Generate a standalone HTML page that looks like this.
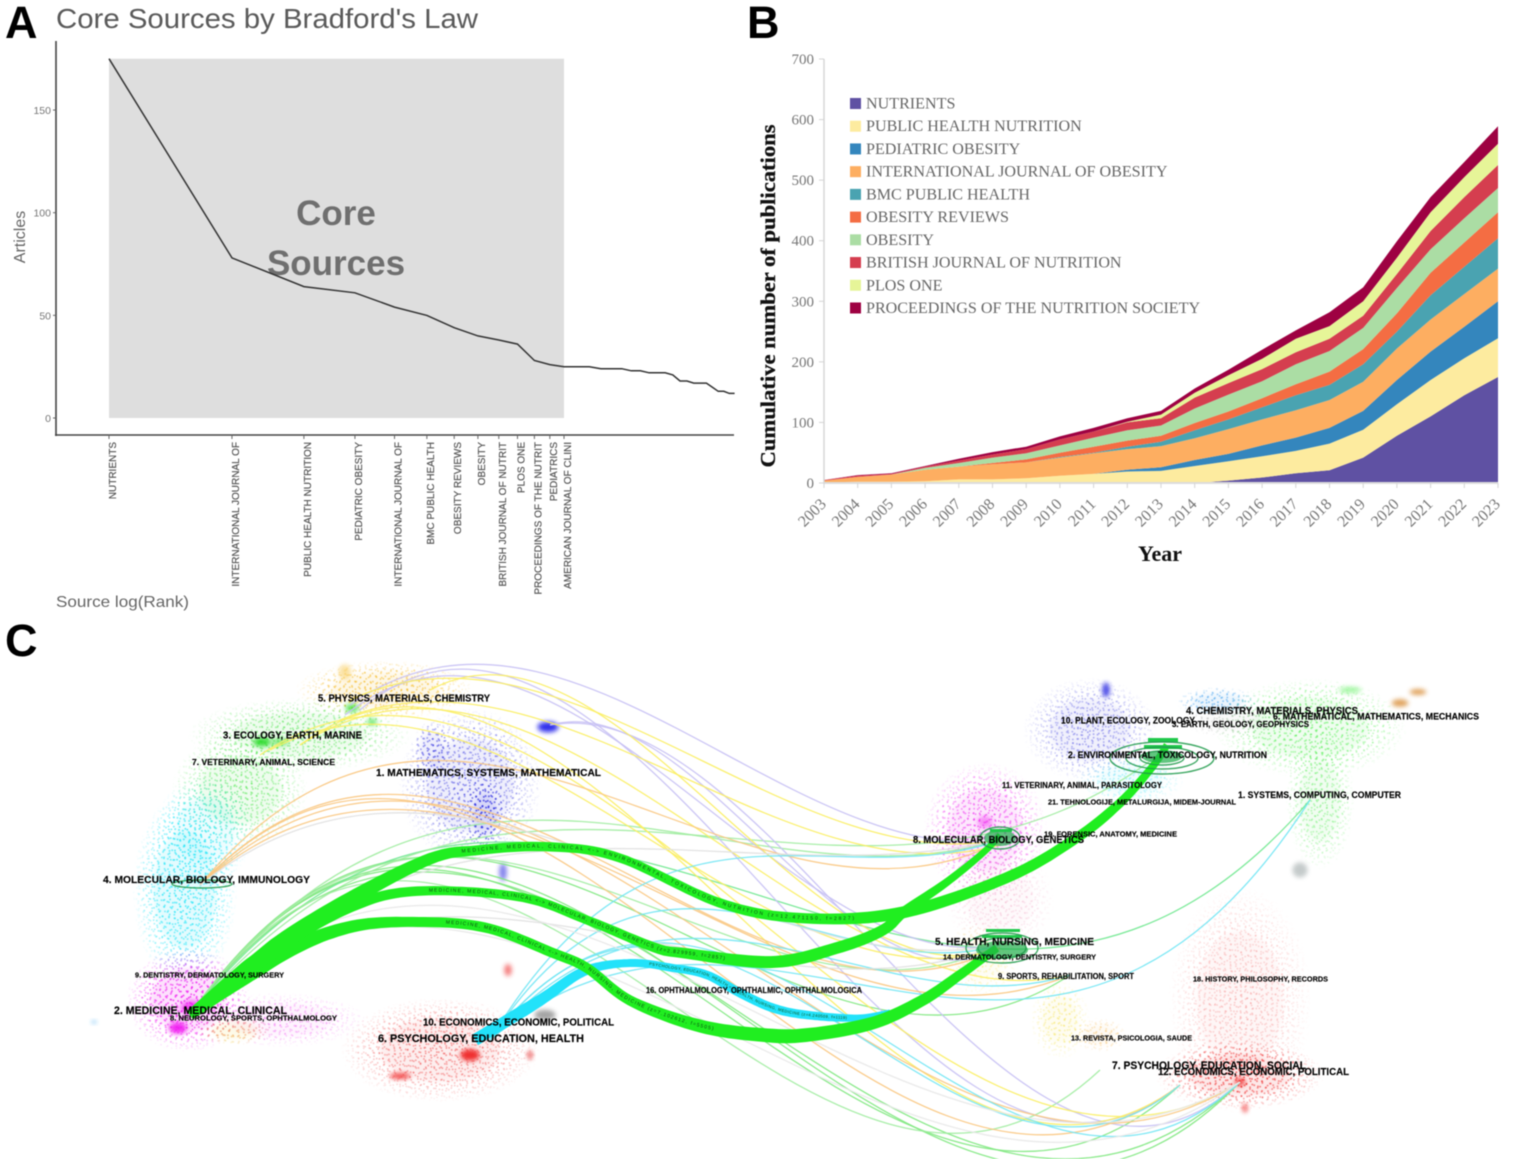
<!DOCTYPE html>
<html lang="en">
<head>
<meta charset="utf-8">
<title>Core sources, publication growth and dual-map overlay</title>
<style>
html,body{margin:0;padding:0;background:#fff;width:1535px;height:1159px;overflow:hidden}
svg{display:block;filter:blur(.45px)}
text{font-family:"Liberation Sans",sans-serif}
.serif{font-family:"Liberation Serif",serif}
</style>
</head>
<body>
<svg id="fig" xmlns="http://www.w3.org/2000/svg" width="1535" height="1159" viewBox="0 0 1535 1159">
  <defs>
    <radialGradient id="fade"><stop offset="0" stop-color="#fff"/><stop offset=".6" stop-color="#aaa"/><stop offset="1" stop-color="#000"/></radialGradient>
    <mask id="cloud-mask" maskContentUnits="objectBoundingBox"><rect width="1" height="1" fill="url(#fade)"/></mask>
    <filter id="soft" x="-80%" y="-80%" width="260%" height="260%"><feGaussianBlur stdDeviation="2.5"/></filter>
  </defs>
  <rect width="1535" height="1159" fill="#fff"/>
  <text x="5" y="38" font-size="45" font-weight="bold" fill="#000">A</text>
  <text x="747" y="38" font-size="45" font-weight="bold" fill="#000">B</text>
  <text x="5" y="656" font-size="45" font-weight="bold" fill="#000">C</text>

  <g id="panel-a">
    <text x="56" y="28" font-size="28" fill="#5a5a5a" textLength="422" lengthAdjust="spacingAndGlyphs">Core Sources by Bradford's Law</text>
    <text transform="translate(25,237) rotate(-90)" text-anchor="middle" font-size="16" fill="#666">Articles</text>
    <text x="56" y="607" font-size="16" fill="#666" textLength="133" lengthAdjust="spacingAndGlyphs">Source log(Rank)</text>
  </g>
  <g id="panel-b">
    <text class="serif" transform="translate(775,296) rotate(-90)" text-anchor="middle" font-size="21" font-weight="bold" fill="#111" textLength="343" lengthAdjust="spacingAndGlyphs" stroke="#111" stroke-width=".3">Cumulative number of publications</text>
    <text class="serif" x="1160" y="561" text-anchor="middle" font-size="22" font-weight="bold" fill="#111">Year</text>
  </g>
  <g id="panel-c"></g>
</svg>
<script>
/* ---------- Panel A data ---------- */
var coreSources = ["NUTRIENTS","INTERNATIONAL JOURNAL OF","PUBLIC HEALTH NUTRITION","PEDIATRIC OBESITY","INTERNATIONAL JOURNAL OF","BMC PUBLIC HEALTH","OBESITY REVIEWS","OBESITY","BRITISH JOURNAL OF NUTRIT","PLOS ONE","PROCEEDINGS OF THE NUTRIT","PEDIATRICS","AMERICAN JOURNAL OF CLINI"];
var articlesByRank = [175,78,64,61,54,50,44,40,38,36,28,26,25,25,25,24,24,24,23,23,22,22,22,21,18,18,17,17,17,15,13,13,12,12];
var bradfordTicks = [0,50,100,150];
var coreZoneRanks = 13;

/* ---------- Panel B data ---------- */
var years = [2003,2004,2005,2006,2007,2008,2009,2010,2011,2012,2013,2014,2015,2016,2017,2018,2019,2020,2021,2022,2023];
var journals = ["NUTRIENTS","PUBLIC HEALTH NUTRITION","PEDIATRIC OBESITY","INTERNATIONAL JOURNAL OF OBESITY","BMC PUBLIC HEALTH","OBESITY REVIEWS","OBESITY","BRITISH JOURNAL OF NUTRITION","PLOS ONE","PROCEEDINGS OF THE NUTRITION SOCIETY"];
var journalColors = ["#5f51a3","#fdeb9f","#3486bd","#fdae61","#4aa3b1","#f46d43","#abdda4","#d53e4f","#e6f598","#9e0142"];
var nutrientsPubs = [0,0,0,0,0,0,0,0,0,0,0,0,4,9,16,21,42,78,110,145,175];
var phnPubs = [1,2,2,3,6,6,8,12,15,19,20,28,32,35,37,44,46,52,60,61,64];
var pediatricPubs = [0,0,0,0,0,0,0,0,0,3,6,10,12,18,22,26,31,40,47,52,61];
var ijoPubs = [3,8,12,19,21,25,26,30,34,34,35,36,41,43,45,46,48,52,53,54,54];
var bmcPubs = [0,0,0,0,0,0,0,1,1,4,7,13,16,20,25,25,29,28,40,45,50];
var reviewsPubs = [0,0,0,0,0,2,5,7,10,10,10,12,13,15,18,22,25,30,37,40,43];
var obesityPubs = [0,0,0,3,6,9,10,12,15,17,17,24,28,28,33,34,35,42,39,40,40];
var bjnPubs = [1,2,1,2,4,5,7,10,10,13,12,18,19,20,20,20,20,23,30,35,38];
var plosPubs = [0,0,0,0,0,0,0,0,0,1,6,8,13,17,22,21,24,27,31,33,35];
var proceedingsPubs = [0,1,1,1,3,4,4,5,6,6,6,7,9,15,14,23,23,27,25,25,29];
var cumulativeTicks = [0,100,200,300,400,500,600,700];

/* ---------- Panel C data (map coordinates of the overlay) ---------- */
var clouds = [
 [385,690,72,24,"#f5b81e",.75],[345,672,8,10,"#f5b81e",.5],[262,742,12,6,"#12d812",1],[280,742,12,5,"#12d812",.6],[300,735,90,30,"#22dd22",.5],[240,790,55,46,"#22e022",.5],[352,708,9,6,"#22dd22",.8],[372,722,7,5,"#22dd22",.7],
 [548,727,14,7,"#0c0ce8",1],[470,785,58,62,"#3b3be0",.6],[485,815,16,30,"#2a2ae0",.8],[503,872,5,12,"#2a2ae0",.7],[432,750,16,24,"#3b3be0",.6],
 [185,890,42,78,"#28e6f8",.9],[205,830,40,44,"#28e6f8",.6],[188,1000,50,42,"#f018f0",.9],[178,1028,12,8,"#f010f0",1],[192,1008,15,10,"#f010f0",.8],[235,1030,30,12,"#f0d020",.7],[280,1020,70,22,"#f050f0",.45],
 [470,1055,13,8,"#ee1111",1],[400,1076,14,4,"#ee1111",.9],[440,1050,80,42,"#ee3333",.55],[508,970,5,8,"#ee2222",.7],[530,1055,3,6,"#e01010",.9],[545,1015,14,7,"#888",.9],[94,1022,3,2,"#2aa0f0",.8],
 [1106,690,5,10,"#1a1ae0",.95],[1090,730,54,42,"#5c5ce4",.6],[1218,702,34,12,"#50a8f0",.8],[1310,728,78,40,"#44ee44",.6],[1320,800,28,56,"#66ee66",.6],[1350,690,15,4,"#44ee44",.6],[1400,703,11,5,"#d88a30",.95],[1418,692,11,4,"#d88a30",.95],
 [985,830,50,55,"#f035f0",.75],[985,822,10,8,"#f020f0",.55],[1130,780,44,20,"#55e8f8",.55],[1000,900,44,44,"#f0a0c0",.4],[1300,870,10,10,"#566",.4],[1230,720,40,14,"#aaa",.45],
 [1240,1000,58,92,"#f04040",.28],[1240,1075,68,28,"#ee2222",.7],[1240,1082,7,5,"#ee1111",.9],[1245,1108,3,6,"#ee1111",.9],[1060,1020,24,32,"#f4e040",.5],[1100,1035,22,14,"#f4b040",.45],[980,960,32,30,"#f4e040",.35]
];
var arcs = [
 [190,1015,1240,1082,495,360,"#7fe87f"],[190,1015,1180,1085,470,300,"#7fe87f"],[190,1015,1070,975,420,190,"#7fe87f"],[190,1015,1310,800,470,430,"#70e890"],
 [190,1015,1000,840,360,80,"#a0eca0"],[190,1015,1000,945,380,130,"#a0eca0"],[190,1015,1165,750,380,250,"#a0eca0"],[190,1015,1240,1082,470,330,"#7fe87f"],[190,1015,1100,1070,430,280,"#a0eca0"],
 [350,705,1000,840,150,30,"#c6c0f4"],[345,715,1000,945,170,40,"#c6c0f4"],[550,725,1000,948,40,80,"#c6c0f4"],[550,725,1240,1082,40,210,"#c6c0f4"],[360,710,1180,1085,230,220,"#c6c0f4"],
 [350,700,1000,840,100,40,"#fbee60"],[430,690,1000,948,100,70,"#fbee60"],[270,750,1000,948,130,80,"#fbee60"],[300,745,1180,1085,215,220,"#fbee60"],[260,755,1240,1082,215,200,"#fbee60"],[340,720,1000,845,90,60,"#fbee60"],[300,745,1070,975,165,60,"#fbee60"],
 [200,885,1000,842,317,130,"#f9c680"],[200,885,1000,948,281,130,"#f9c680"],[200,885,1180,1085,340,250,"#f9c680"],[200,885,1240,1082,326,220,"#f9c680"],[200,885,1070,975,250,120,"#f9c680"],
 [490,1040,1000,840,280,60,"#70e6f4"],[490,1040,1000,945,260,50,"#70e6f4"],[490,1040,1180,1085,300,190,"#70e6f4"],[490,1040,1240,1082,320,230,"#70e6f4"],[490,1040,1310,800,230,420,"#70e6f4"],[490,1040,1070,975,220,60,"#70e6f4"],
 [190,1015,1000,840,270,60,"#e0e0e0"],[190,1015,1000,945,230,100,"#e0e0e0"],[200,885,1000,945,210,50,"#e0e0e0"],[190,1015,1240,1082,310,250,"#e8e8e8"],[190,1015,1240,1082,350,200,"#e8e8e8"]
];
var ribbonCentres = {
 environmental:[[190,1015],[300,930],[420,863],[480,850],[553,847],[620,858],[720,903],[800,918],[900,913],[1006,878],[1075,839],[1121,802],[1153,766],[1167,745]],
 molecular:[[190,1015],[280,945],[355,905],[420,891],[520,897],[587,920],[653,947],[683,953],[773,962],[840,947],[883,930],[905,911],[947,882],[984,852],[1000,835]],
 health:[[190,1015],[280,955],[350,927],[420,922],[487,928],[553,953],[587,968],[631,1001],[700,1026],[763,1035],[807,1035],[873,1023],[923,1000],[961,974],[997,948]],
 ophthalmic:[[475,1040],[539,1001],[585,971],[631,963],[673,968],[707,975],[740,993],[773,1008],[807,1015],[857,1018],[890,1012]]
};
var ribbonWidths = {
 environmental:[10,18,14,10,9,9,10,12,11,10,7],
 molecular:[10,17,13,10,9,9,9,10,12,12,11,8,6],
 health:[10,16,13,10,10,10,10,13,14,13,11,8],
 ophthalmic:[12,12,10,8,8,9,9,8,5]
};
var ribbonColors = {environmental:"#20ee20",molecular:"#20ee20",health:"#20ee20",ophthalmic:"#22e2fa"};
var ribbonCaptions = {
 environmental:"MEDICINE, MEDICAL, CLINICAL <-> ENVIRONMENTAL, TOXICOLOGY, NUTRITION (z=12.471150, f=2827)",
 molecular:"MEDICINE, MEDICAL, CLINICAL <-> MOLECULAR, BIOLOGY, GENETICS (z=2.829959, f=2857)",
 health:"MEDICINE, MEDICAL, CLINICAL <-> HEALTH, NURSING, MEDICINE (z=7.102612, f=5505)",
 ophthalmic:"PSYCHOLOGY, EDUCATION, HEALTH <-> HEALTH, NURSING, MEDICINE (z=4.240509, f=1119)"
};
var ribbonCaptionStart = {environmental:320,molecular:275,health:280,ophthalmic:195};
var ribbonCaptionSpacing = {environmental:1.8,molecular:1.1,health:1.1,ophthalmic:.4};
var rings = [[1162,758,52,16],[1162,758,36,11],[1162,758,22,7],[1002,948,36,15],[1002,948,24,10],[1000,838,20,11],[202,884,30,4]];
var ringCores = [[1162,757,20,6],[1002,950,26,9],[1000,838,16,8]];
var ringStacks = [[1148,738,30,4],[1144,745,38,4],[986,929,34,3],[982,935,40,3],[990,829,22,3]];
var mapLabels = [
 ["5. PHYSICS, MATERIALS, CHEMISTRY",318,490,698,10],["3. ECOLOGY, EARTH, MARINE",223,362,735,10],["7. VETERINARY, ANIMAL, SCIENCE",192,335,762,8.5],
 ["1. MATHEMATICS, SYSTEMS, MATHEMATICAL",376,601,772,10.5],["4. MOLECULAR, BIOLOGY, IMMUNOLOGY",103,310,879,10.5],["9. DENTISTRY, DERMATOLOGY, SURGERY",135,284,975,7.5],
 ["2. MEDICINE, MEDICAL, CLINICAL",114,287,1010,11],["8. NEUROLOGY, SPORTS, OPHTHALMOLOGY",170,337,1018,7.5],["10. ECONOMICS, ECONOMIC, POLITICAL",423,614,1022,10],
 ["6. PSYCHOLOGY, EDUCATION, HEALTH",378,584,1038,11],["16. OPHTHALMOLOGY, OPHTHALMIC, OPHTHALMOLOGICA",646,862,990,8],["10. PLANT, ECOLOGY, ZOOLOGY",1061,1195,720,9.5],
 ["4. CHEMISTRY, MATERIALS, PHYSICS",1186,1358,710,10.5],["6. MATHEMATICAL, MATHEMATICS, MECHANICS",1273,1479,716,9.5],["3. EARTH, GEOLOGY, GEOPHYSICS",1172,1309,724,8.5],
 ["2. ENVIRONMENTAL, TOXICOLOGY, NUTRITION",1068,1267,755,9],["11. VETERINARY, ANIMAL, PARASITOLOGY",1002,1162,785,8],["21. TEHNOLOGIJE, METALURGIJA, MIDEM-JOURNAL",1048,1236,802,7.5],
 ["1. SYSTEMS, COMPUTING, COMPUTER",1238,1401,795,9],["8. MOLECULAR, BIOLOGY, GENETICS",913,1084,839,10.5],["19. FORENSIC, ANATOMY, MEDICINE",1044,1177,834,7.5],
 ["5. HEALTH, NURSING, MEDICINE",935,1094,941,10.5],["14. DERMATOLOGY, DENTISTRY, SURGERY",943,1096,957,7.5],["9. SPORTS, REHABILITATION, SPORT",998,1134,976,8],
 ["18. HISTORY, PHILOSOPHY, RECORDS",1193,1328,979,7.5],["13. REVISTA, PSICOLOGIA, SAUDE",1071,1192,1038,7.5],["7. PSYCHOLOGY, EDUCATION, SOCIAL",1112,1306,1065,11],
 ["12. ECONOMICS, ECONOMIC, POLITICAL",1158,1349,1071,10.5]
];

/* ---------- helpers ---------- */
var NS = "http://www.w3.org/2000/svg";
function make(tag, parent) { var e = document.createElementNS(NS, tag); parent.appendChild(e); return e; }
function set(e, a) { for (var k in a) e.setAttribute(k, a[k]); return e; }
var fig = document.getElementById("fig");
var defs = fig.querySelector("defs");

/* ---------- Panel A ---------- */
(function () {
  var g = document.getElementById("panel-a");
  function xRank(r) { return 109 + 177.4 * Math.log(r); }
  function yArt(v) { return 418 - 2.053 * v; }
  var zone = make("rect", g);
  
  
  set(zone, {x: xRank(1), y: yArt(Math.max.apply(null, articlesByRank)), width: xRank(coreZoneRanks) - xRank(1), height: yArt(0) - yArt(Math.max.apply(null, articlesByRank)), fill: "#dedede"});
  ["Core", "Sources"].forEach(function (w, i) {
    var t = make("text", g);
    
    
    set(t, {x: 336, y: 225 + i * 50, "text-anchor": "middle", "font-size": 35, "font-weight": "bold", fill: "#6f6f6f"});
    t.textContent = w;
  });
  var line = make("path", g);
  
  
  set(line, {d: articlesByRank.map(function (v, i) { return (i ? "L" : "M") + xRank(i + 1).toFixed(1) + " " + yArt(v).toFixed(1); }).join(""), fill: "none", stroke: "#333", "stroke-width": 1.5});
  var yAxis = make("line", g);
  
  
  set(yAxis, {x1: 56, y1: 41, x2: 56, y2: 436, stroke: "#444", "stroke-width": 1.6});
  var xAxis = make("line", g);
  
  
  set(xAxis, {x1: 55, y1: 435, x2: 734, y2: 435, stroke: "#444", "stroke-width": 1.6});
  bradfordTicks.forEach(function (v) {
    var t = make("line", g);
    
    
    set(t, {x1: 53, x2: 56, y1: yArt(v), y2: yArt(v), stroke: "#666"});
    var l = make("text", g);
    
    
    set(l, {x: 51, y: yArt(v) + 4, "text-anchor": "end", "font-size": 10.5, fill: "#777"});
    l.textContent = v;
  });
  coreSources.forEach(function (s, i) {
    var x = xRank(i + 1);
    var t = make("line", g);
    
    
    set(t, {x1: x, x2: x, y1: 435, y2: 439, stroke: "#666"});
    var l = make("text", g);
    
    
    set(l, {transform: "translate(" + (x + 7) + ",442) rotate(-90)", "text-anchor": "end", "font-size": 10, fill: "#555", stroke: "#555", "stroke-width": .2});
    l.textContent = s;
  });
})();

/* ---------- Panel B ---------- */
(function () {
  var g = document.getElementById("panel-b");
  var seriesValues = [nutrientsPubs, phnPubs, pediatricPubs, ijoPubs, bmcPubs, reviewsPubs, obesityPubs, bjnPubs, plosPubs, proceedingsPubs];
  function xYear(i) { return 824 + (1498 - 824) * i / (years.length - 1); }
  function yPubs(v) { return 483 - v * 0.6057; }
  var base = years.map(function () { return 0; });
  seriesValues.forEach(function (vals, s) {
    var top = base.map(function (b, i) { return b + vals[i]; });
    var d = "M" + top.map(function (v, i) { return xYear(i).toFixed(1) + " " + yPubs(v).toFixed(1); }).join("L");
    for (var i = years.length - 1; i >= 0; i--) d += "L" + xYear(i).toFixed(1) + " " + yPubs(base[i]).toFixed(1);
    var a = make("path", g);
    
    
    set(a, {d: d + "Z", fill: journalColors[s]});
    base = top;
  });
  var yAxis = make("line", g);
  
  
  set(yAxis, {x1: 824, x2: 824, y1: yPubs(700), y2: 483, stroke: "#d4d4d4", "stroke-width": 1.4});
  var xAxis = make("line", g);
  
  
  set(xAxis, {x1: 824, x2: 1498, y1: 483, y2: 483, stroke: "#dcdcdc", "stroke-width": 2});
  cumulativeTicks.forEach(function (v) {
    var t = make("line", g);
    
    
    set(t, {x1: 819, x2: 824, y1: yPubs(v), y2: yPubs(v), stroke: "#d4d4d4"});
    var l = make("text", g);
    
    
    l.setAttribute("class", "serif");
    set(l, {x: 814, y: yPubs(v) + 5, "text-anchor": "end", "font-size": 15, fill: "#777"});
    l.textContent = v;
  });
  years.forEach(function (y, i) {
    var x = xYear(i);
    var t = make("line", g);
    
    
    set(t, {x1: x, x2: x, y1: 483, y2: 488, stroke: "#d4d4d4"});
    var l = make("text", g);
    
    
    l.setAttribute("class", "serif");
    set(l, {transform: "translate(" + (x + 3) + ",505) rotate(-45)", "text-anchor": "end", "font-size": 16, fill: "#777"});
    l.textContent = y;
  });
  journals.forEach(function (name, i) {
    var row = make("g", g);
    
    
    var yy = 103.5 + i * 22.72;
    var sw = make("rect", row);
    
    
    set(sw, {x: 850, y: yy - 5.5, width: 11, height: 11, fill: journalColors[i]});
    var l = make("text", row);
    
    
    l.setAttribute("class", "serif");
    set(l, {x: 866, y: yy + 5, "font-size": 16.1, fill: "#666"});
    l.textContent = name;
  });
})();

/* ---------- Panel C ---------- */
(function () {
  var g = document.getElementById("panel-c");
  var patterns = {};
  function dotsFor(color, turn) {
    var key = color + turn;
    if (patterns[key]) return patterns[key];
    var id = "dots" + Object.keys(patterns).length;
    var p = make("pattern", defs);
    set(p, {id: id, width: 17, height: 13, patternUnits: "userSpaceOnUse", patternTransform: "rotate(" + turn + ")"});
    [[1.5, 1.5], [7, 4], [12.5, 2], [3.5, 8.5], [10, 10], [15, 7.5]].forEach(function (c) {
      var d = make("circle", p);
      set(d, {cx: c[0], cy: c[1], r: .9, fill: color});
    });
    patterns[key] = id;
    return id;
  }
  clouds.forEach(function (c) {
    var small = c[2] <= 15 || c[3] <= 7;
    var glow = make("ellipse", g);
    
    
    set(glow, {cx: c[0], cy: c[1], rx: c[2] * .75, ry: c[3] * .75, fill: c[4], opacity: c[5] * (small ? .85 : .14), filter: "url(#soft)"});
    if (!small) {
      [23, 71, 128].forEach(function (turn) {
        var dots = make("ellipse", g);
        
        
        set(dots, {cx: c[0], cy: c[1], rx: c[2] * 1.25, ry: c[3] * 1.25, fill: "url(#" + dotsFor(c[4], turn) + ")", mask: "url(#cloud-mask)", opacity: c[5]});
      });
    }
  });
  arcs.forEach(function (a) {
    var dx = a[2] - a[0];
    var p = make("path", g);
    
    
    set(p, {d: "M" + a[0] + " " + a[1] + "C" + (a[0] + .33 * dx) + " " + (a[1] - a[4]) + " " + (a[0] + .67 * dx) + " " + (a[3] + a[5]) + " " + a[2] + " " + a[3], fill: "none", stroke: a[6], "stroke-width": 1.3, opacity: .9});
  });
  function smooth(pts) {
    var d = "M" + pts[0][0] + " " + pts[0][1];
    for (var i = 0; i < pts.length - 1; i++) {
      var p0 = pts[Math.max(i - 1, 0)], p1 = pts[i], p2 = pts[i + 1], p3 = pts[Math.min(i + 2, pts.length - 1)];
      d += "C" + (p1[0] + (p2[0] - p0[0]) / 6).toFixed(1) + " " + (p1[1] + (p2[1] - p0[1]) / 6).toFixed(1) + " " +
        (p2[0] - (p3[0] - p1[0]) / 6).toFixed(1) + " " + (p2[1] - (p3[1] - p1[1]) / 6).toFixed(1) + " " + p2[0] + " " + p2[1];
    }
    return d;
  }
  var order = ["ophthalmic", "health", "molecular", "environmental"];
  order.forEach(function (key) {
    var centre = make("path", defs);
    set(centre, {id: "centre-" + key, d: smooth(ribbonCentres[key]), fill: "none"});
    var len = centre.getTotalLength(), widths = ribbonWidths[key], L = [], R = [];
    for (var s = 0; s <= 160; s++) {
      var at = len * s / 160, a = centre.getPointAtLength(Math.max(at - .5, 0)), b = centre.getPointAtLength(Math.min(at + .5, len));
      var m = centre.getPointAtLength(at), tx = b.x - a.x, ty = b.y - a.y, n = Math.hypot(tx, ty) || 1;
      var f = s / 160 * (widths.length - 1), k = Math.min(Math.floor(f), widths.length - 2);
      var w = (widths[k] + (widths[k + 1] - widths[k]) * (f - k)) / 2;
      L.push((m.x - ty / n * w).toFixed(1) + " " + (m.y + tx / n * w).toFixed(1));
      R.unshift((m.x + ty / n * w).toFixed(1) + " " + (m.y - tx / n * w).toFixed(1));
    }
    var r = make("path", g);
    
    
    set(r, {d: "M" + L.concat(R).join("L") + "Z", fill: ribbonColors[key]});
    var t = make("text", g);
    
    
    set(t, {"font-size": key === "ophthalmic" ? 4 : 5, fill: "#0b4f12", "letter-spacing": ribbonCaptionSpacing[key], "dominant-baseline": "middle"});
    var tp = make("textPath", t);
    tp.setAttribute("href", "#centre-" + key);
    tp.setAttribute("startOffset", ribbonCaptionStart[key]);
    tp.textContent = ribbonCaptions[key];
  });
  ringCores.forEach(function (r) {
    var e = make("ellipse", g);
    
    
    set(e, {cx: r[0], cy: r[1], rx: r[2], ry: r[3], fill: "#1fae4a", opacity: .7});
  });
  ringStacks.forEach(function (r) {
    var e = make("rect", g);
    
    
    set(e, {x: r[0], y: r[1], width: r[2], height: r[3], fill: "#1fc84a"});
  });
  rings.forEach(function (r) {
    var e = make("ellipse", g);
    
    
    set(e, {cx: r[0], cy: r[1], rx: r[2], ry: r[3], fill: "none", stroke: "#1f9a4a", "stroke-width": 1.4, opacity: .85});
  });
  mapLabels.forEach(function (m) {
    var t = make("text", g);
    
    
    set(t, {x: m[1], y: m[3] + m[4] * .36, "font-size": m[4], "font-weight": "bold", fill: "#000", stroke: "#000", "stroke-width": .15, textLength: m[2] - m[1], lengthAdjust: "spacingAndGlyphs"});
    t.textContent = m[0];
  });
})();
</script>
</body>
</html>
